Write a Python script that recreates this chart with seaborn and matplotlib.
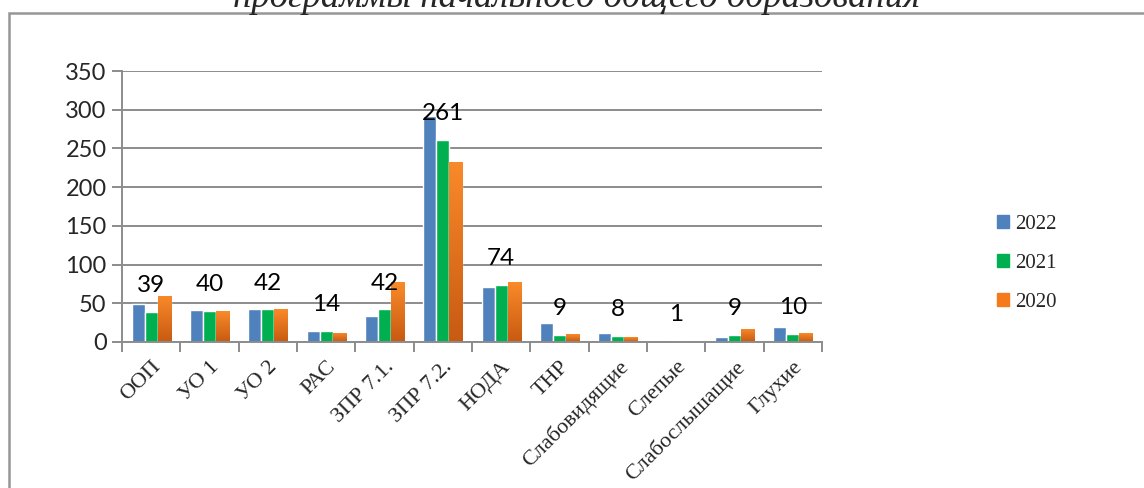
import pandas as pd
import numpy as np
import seaborn as sns
import matplotlib.pyplot as plt
from matplotlib.patches import Rectangle, Patch
from matplotlib.colors import LinearSegmentedColormap

# --- данные ---
categories = ['ООП', 'УО 1', 'УО 2', 'РАС', 'ЗПР 7.1.', 'ЗПР 7.2.', 'НОДА', 'ТНР',
              'Слабовидящие', 'Слепые', 'Слабослышащие', 'Глухие']
years = ['2022', '2021', '2020']
vals_2022 = [49, 41, 43, 14, 34, 292, 71, 24, 12, 0, 7, 19]
vals_2021 = [39, 40, 42, 14, 42, 261, 74, 9, 8, 1, 9, 10]
vals_2020 = [60, 40, 42, 12, 77, 233, 77, 10, 6, 0, 17, 11]
labels_2021 = [39, 40, 42, 14, 42, 261, 74, 9, 8, 1, 9, 10]
colors = ['#4F81BD', '#00B050', '#F57A1C']

df = pd.DataFrame({
    'cat': categories * 3,
    'year': [y for y in years for _ in categories],
    'val': vals_2022 + vals_2021 + vals_2020,
})

sns.set_style('white')
plt.rcParams['font.family'] = ['Lato', 'DejaVu Sans']

fig = plt.figure(figsize=(11.44, 4.88), dpi=100)
ax = fig.add_axes([0.1066, 0.2992, 0.612, 0.5553])

sns.barplot(data=df, x='cat', y='val', hue='year', hue_order=years,
            palette=colors, width=0.67, ax=ax, legend=False, saturation=1,
            errorbar=None)

# градиент на оранжевых столбцах (2020)
grad = LinearSegmentedColormap.from_list('og', ['#C85A12', '#F98A2A'])
n = len(categories)
for p in ax.patches[2 * n:3 * n]:
    x0, w, h = p.get_x(), p.get_width(), p.get_height()
    if h <= 0:
        continue
    im = ax.imshow(np.linspace(0, 1, 64).reshape(-1, 1), cmap=grad, origin='lower',
                   extent=(x0, x0 + w, 0, h), aspect='auto', zorder=p.get_zorder() + 0.1)
    im.set_clip_path(p)

# подписи значений (2021) над группами
for i, v in enumerate(labels_2021):
    ax.annotate(str(v), xy=(i, vals_2021[i]), xytext=(0, 19),
                textcoords='offset points', ha='center', va='center',
                fontsize=17.5, color='black')

ax.set_ylim(0, 350)
ax.set_xlim(-0.5, n - 0.5)
ax.set_yticks(range(0, 351, 50))
ax.yaxis.grid(True, color='#8C8C8C', linewidth=1.4)
ax.set_axisbelow(True)
ax.set_xlabel('')
ax.set_ylabel('')
for s in ['top', 'right']:
    ax.spines[s].set_visible(False)
for s in ['left', 'bottom']:
    ax.spines[s].set_color('#8C8C8C')
    ax.spines[s].set_linewidth(1.4)

ax.tick_params(axis='y', which='major', length=7, width=1.4, color='#8C8C8C',
               labelsize=17, pad=4, left=True)
ax.set_xticks(np.arange(n))
ax.set_xticklabels(categories, rotation=45, ha='right', rotation_mode='anchor',
                   fontsize=16, family=['Liberation Serif'])
ax.tick_params(axis='x', which='major', length=0, pad=11)
ax.set_xticks(np.arange(-0.5, n, 1), minor=True)
ax.tick_params(axis='x', which='minor', length=7, width=1.4, color='#8C8C8C',
               bottom=True)

# легенда
handles = [Patch(facecolor=c, edgecolor=c, label=y) for c, y in zip(colors, years)]
fig.legend(handles=handles, loc='center left', bbox_to_anchor=(0.855, 0.46),
           frameon=False, prop={'family': 'Liberation Serif', 'size': 15},
           handlelength=0.58, handleheight=0.58, handletextpad=0.3,
           labelspacing=0.95)

# рамка и обрезанный заголовок
fig.patches.append(Rectangle((9 / 1144, -0.05), 1.2, 1 - 13 / 488 + 0.05,
                             transform=fig.transFigure, fill=False,
                             edgecolor='#969696', linewidth=1.8))
fig.text(0.504, 1 - 7 / 488, 'программы начального общего образования',
         ha='center', va='baseline', fontsize=26.5, style='italic',
         family=['Liberation Serif'])

fig.savefig('out.png', dpi=100)
